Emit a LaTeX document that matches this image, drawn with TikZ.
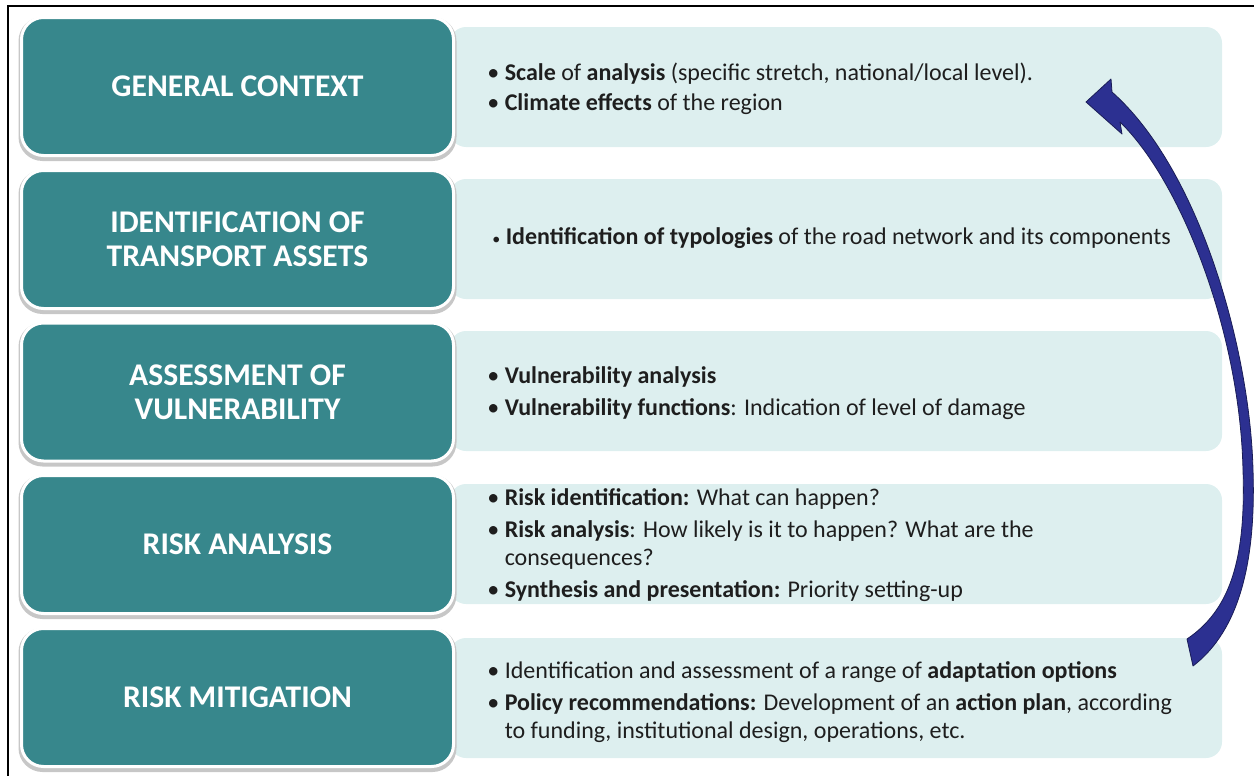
\documentclass[tikz,border=0pt]{standalone}
\usepackage{fontspec}
\setmainfont{Carlito}
\usepackage{tikz}
\definecolor{stageteal}{RGB}{55,135,140}
\definecolor{detailbg}{RGB}{221,239,239}
\definecolor{loopblue}{RGB}{44,48,145}
\definecolor{bodytext}{RGB}{30,30,30}

\begin{document}
\begin{tikzpicture}[x=0.5pt,y=-0.5pt,
  stage/.style={rectangle, rounded corners=11pt, fill=stageteal, draw=white, line width=1.5pt,
    minimum width=216pt, minimum height=69pt, text=white, align=center,
    font=\fontsize{15.8}{17}\selectfont\bfseries},
  stageshadow/.style={rectangle, rounded corners=12pt, fill=black!22,
    minimum width=219pt, minimum height=72pt},
  detail/.style={rectangle, rounded corners=8pt, fill=detailbg, minimum width=386pt, minimum height=60pt},
  bullets/.style={anchor=west, align=left, text=bodytext, inner sep=0pt,
    font=\fontsize{12}{14}\selectfont}]
\useasboundingbox (0,0) rectangle (1254,776);
\newcommand{\Sx}{237.5};
\newcommand{\Dx}{836};
\newcommand{\Tx}{487};
\newcommand{\cont}{\phantom{\textbullet\ }};

% frame
\draw[line width=1pt] (8,776) -- (8,6) -- (1254,6);

% detail panels
\node[detail] (ctxd) at (\Dx, 87) {};
\node[detail] (assetsd) at (\Dx, 239) {};
\node[detail] (vulnd) at (\Dx, 391) {};
\node[detail] (riskd) at (\Dx, 544) {};
\node[detail] (mitigd) at (\Dx, 698) {};

% stages
\node[stageshadow] at (\Sx, 89) {};
\node[stageshadow] at (\Sx, 242) {};
\node[stageshadow] at (\Sx, 394.5) {};
\node[stageshadow] at (\Sx, 547) {};
\node[stageshadow] at (\Sx, 700) {};
\node[stage] (ctx) at (\Sx, 86.5) {GENERAL CONTEXT};
\node[stage] (assets) at (\Sx, 239.5) {IDENTIFICATION OF\\TRANSPORT ASSETS};
\node[stage] (vuln) at (\Sx, 392) {ASSESSMENT OF\\VULNERABILITY};
\node[stage] (risk) at (\Sx, 544.5) {RISK ANALYSIS};
\node[stage] (mitig) at (\Sx, 697.5) {RISK MITIGATION};

% texts
\node[bullets] (ctxt) at (\Tx, 88.5) {\textbullet\ \textbf{Scale} of \textbf{analysis} (specific stretch, national/local level).\\[1pt]
  \textbullet\ \textbf{Climate effects} of the region};
\node[bullets] (assetst) at (\Tx + 5, 238) {{\fontsize{8}{8}\selectfont\textbullet}\ \textbf{Identification of typologies} of the road network and its components};
\node[bullets] (vulnt) at (\Tx, 393) {\textbullet\ \textbf{Vulnerability analysis}\\[2pt]
  \textbullet\ \textbf{Vulnerability functions}: Indication of level of damage};
\node[bullets] (riskt) at (\Tx, 545) {\textbullet\ \textbf{Risk identification:} What can happen?\\[2pt]
  \textbullet\ \textbf{Risk analysis}: How likely is it to happen? What are the\\
  \cont consequences?\\[2pt]
  \textbullet\ \textbf{Synthesis and presentation:} Priority setting-up};
\node[bullets] (mitigt) at (\Tx, 702) {\textbullet\ Identification and assessment of a range of \textbf{adaptation options}\\[2pt]
  \textbullet\ \textbf{Policy recommendations:} Development of an \textbf{action plan}, according\\
  \cont to funding, institutional design, operations, etc.};

% feedback arrow
\coordinate (Ti) at (1187, 639);
\coordinate (To) at (1193, 666);
\coordinate (Mi) at (1243, 470);
\coordinate (Mo) at (1253, 470);
\coordinate (Nu) at (1112, 92);
\coordinate (Nl) at (1120, 122);
\coordinate (Bu) at (1111, 79);
\coordinate (Bl) at (1122, 134);
\coordinate (Tip) at (1086, 102);
\fill[loopblue, draw=loopblue!60!black, line width=0.4pt, line join=round]
  (To) .. controls (1240, 630) and (1256, 560) .. (Mo)
       .. controls (1250, 350) and (1200, 170) .. (Nu)
  -- (Bu) -- (Tip) -- (Bl) -- (Nl)
       .. controls (1180, 180) and (1240, 330) .. (Mi)
       .. controls (1246, 560) and (1230, 610) .. (Ti)
  -- cycle;
%
\end{tikzpicture}
\end{document}
